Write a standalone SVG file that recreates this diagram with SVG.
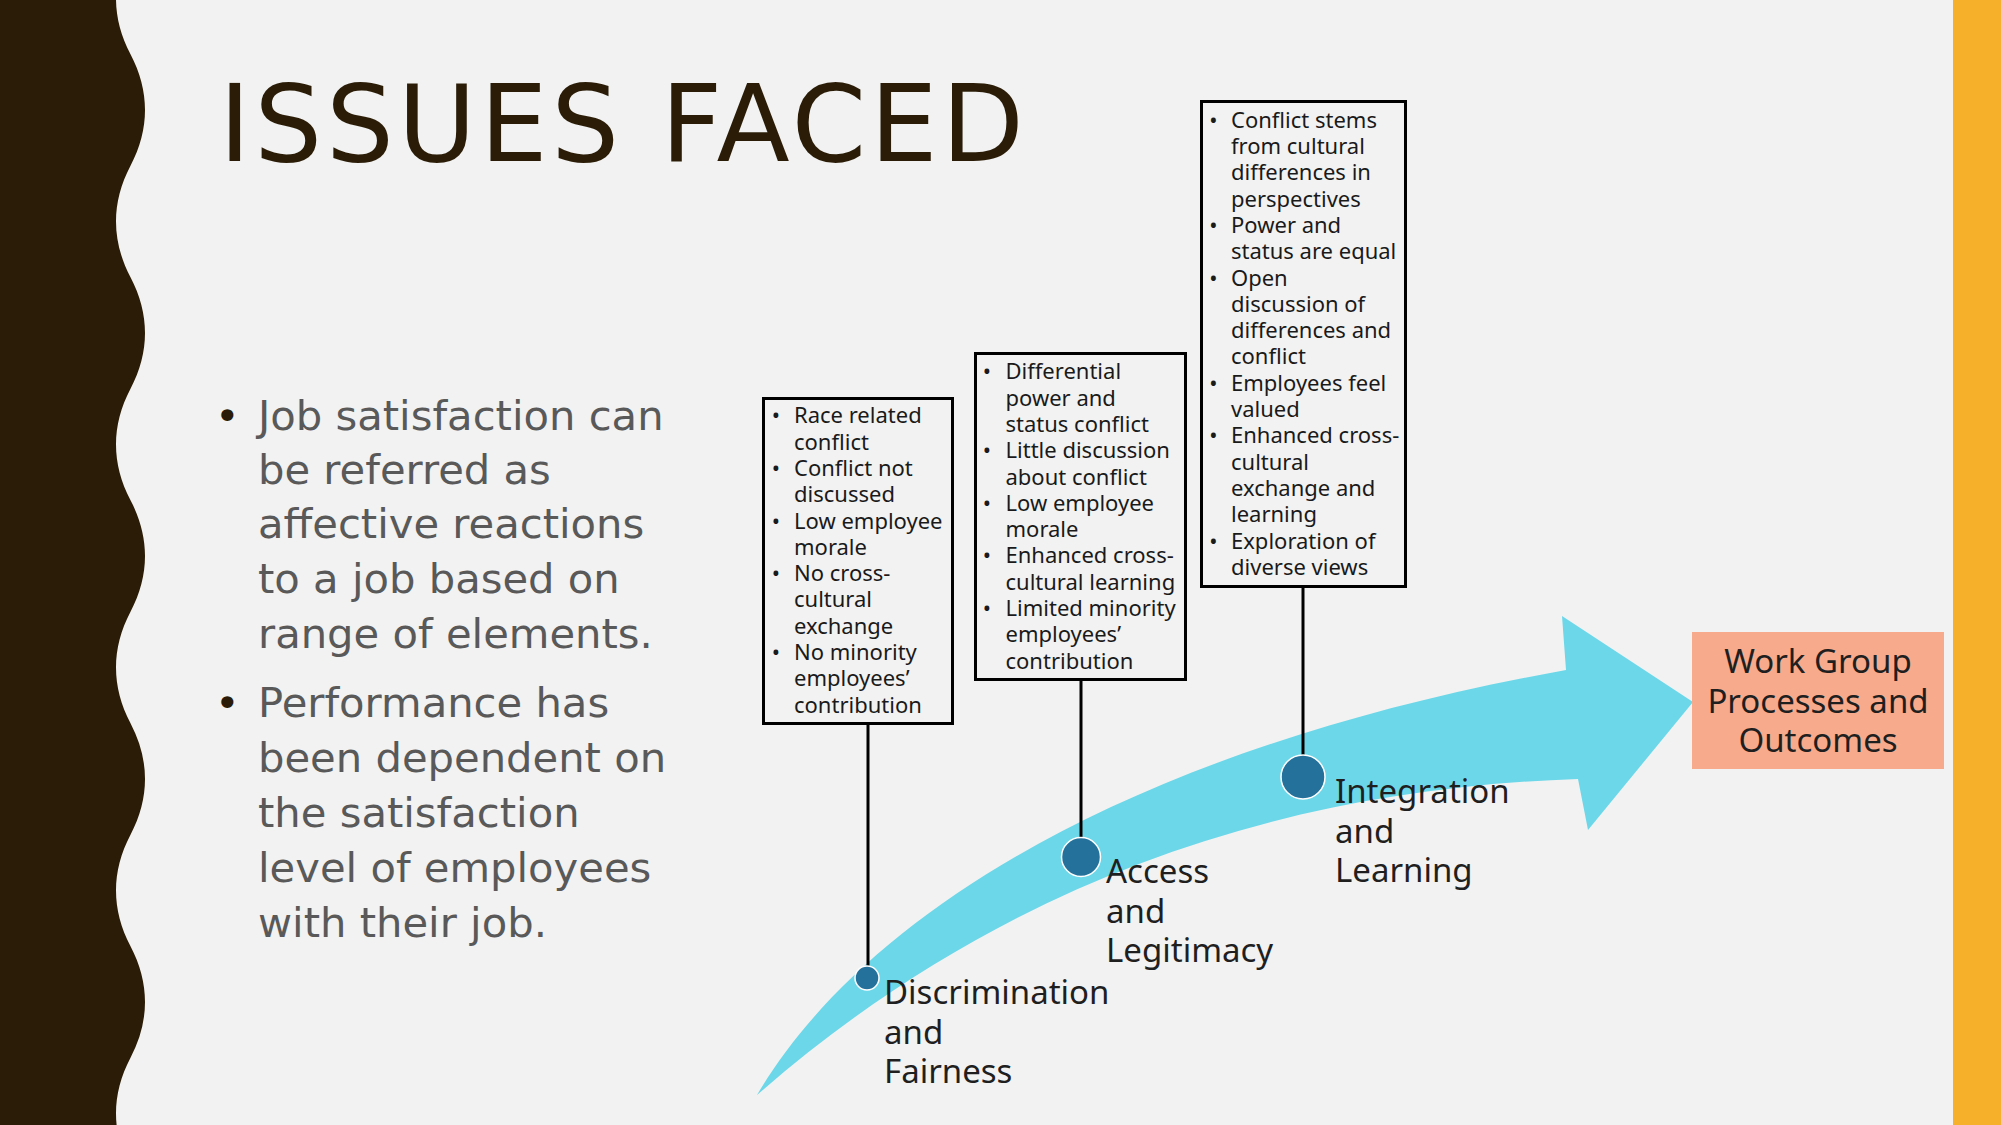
<svg xmlns="http://www.w3.org/2000/svg" width="2001" height="1125" viewBox="0 0 2001 1125">
<style>
.title{font-family:"DejaVu Sans",sans-serif;font-size:107px;fill:#2a1c06;letter-spacing:3.8px}
.body{font-family:"DejaVu Sans",sans-serif;font-size:41.7px;fill:#595959}
.bul{font-family:"DejaVu Sans",sans-serif;font-size:41.7px;fill:#2a1c06}
.box{fill:none;stroke:#000;stroke-width:3}
.bt{font-family:"Noto Sans","Open Sans",sans-serif;font-size:22px;fill:#1a1a1a}
.bb{font-family:"Noto Sans","Open Sans",sans-serif;font-size:22px;fill:#1a1a1a;text-anchor:middle}
.lbl{font-family:"Noto Sans","Open Sans",sans-serif;font-size:33px;fill:#1f1f1f}
.dot{fill:#24729c;stroke:#fff;stroke-width:1.5}
.conn{stroke:#000;stroke-width:3;fill:none}
</style>
<rect id="background" x="0" y="0" width="2001" height="1125" fill="#f2f2f2"/>
<path id="left-band" fill="#2a1c06" d="M0,-58 L130.5,-57.25 C111.17,-20.45 111.17,17.45 130.5,54.25 C149.83,91.05 149.83,128.95 130.5,165.75 C111.17,202.55 111.17,240.45 130.5,277.25 C149.83,314.05 149.83,351.95 130.5,388.75 C111.17,425.55 111.17,463.45 130.5,500.25 C149.83,537.05 149.83,574.95 130.5,611.75 C111.17,648.55 111.17,686.45 130.5,723.25 C149.83,760.05 149.83,797.95 130.5,834.75 C111.17,871.55 111.17,909.45 130.5,946.25 C149.83,983.05 149.83,1020.95 130.5,1057.75 C111.17,1094.55 111.17,1132.45 130.5,1169.25 L0,1170 Z"/>
<rect id="right-bar" x="1953" y="0" width="48" height="1125" fill="#f6b02a"/>
<g id="title"><text class="title" x="219" y="161">ISSUES FACED</text></g>
<g id="body-text">
<text class="bul" x="215" y="430">•</text>
<text class="body" x="258" y="430">Job satisfaction can</text>
<text class="body" x="258" y="484">be referred as</text>
<text class="body" x="258" y="538">affective reactions</text>
<text class="body" x="258" y="593">to a job based on</text>
<text class="body" x="258" y="648">range of elements.</text>
<text class="bul" x="215" y="717">•</text>
<text class="body" x="258" y="717">Performance has</text>
<text class="body" x="258" y="772">been dependent on</text>
<text class="body" x="258" y="827">the satisfaction</text>
<text class="body" x="258" y="882">level of employees</text>
<text class="body" x="258" y="937">with their job.</text>
</g>
<g id="arrow">
<path fill="#6cd7e8" d="M757,1095 C860,920 1120,750 1566,670 L1562,616 L1693,702 L1588,830 L1578,779 C1250,790 980,900 757,1095 Z"/>
</g>
<g id="connectors">
<line class="conn" x1="868" y1="724" x2="868" y2="967"/>
<line class="conn" x1="1081" y1="680" x2="1081" y2="838"/>
<line class="conn" x1="1303" y1="587" x2="1303" y2="755"/>
</g>
<g id="box-discrimination">
<rect class="box" x="763.5" y="398.5" width="189" height="325"/>
<g class="bb"><text x="776" y="423.3">•</text><text x="776" y="476">•</text><text x="776" y="528.5">•</text><text x="776" y="581.1">•</text><text x="776" y="660">•</text></g>
<text class="bt" x="794" y="423.3">Race related</text>
<text class="bt" x="794" y="449.6">conflict</text>
<text class="bt" x="794" y="476">Conflict not</text>
<text class="bt" x="794" y="502.2">discussed</text>
<text class="bt" x="794" y="528.5">Low employee</text>
<text class="bt" x="794" y="554.8">morale</text>
<text class="bt" x="794" y="581.1">No cross-</text>
<text class="bt" x="794" y="607.4">cultural</text>
<text class="bt" x="794" y="633.7">exchange</text>
<text class="bt" x="794" y="660">No minority</text>
<text class="bt" x="794" y="686.3">employees’</text>
<text class="bt" x="794" y="712.6">contribution</text>
</g>
<g id="box-access">
<rect class="box" x="975.5" y="353.5" width="210" height="326"/>
<g class="bb"><text x="987" y="379.3">•</text><text x="987" y="458.2">•</text><text x="987" y="510.8">•</text><text x="987" y="563.4">•</text><text x="987" y="616">•</text></g>
<text class="bt" x="1005.5" y="379.3">Differential</text>
<text class="bt" x="1005.5" y="405.6">power and</text>
<text class="bt" x="1005.5" y="431.9">status conflict</text>
<text class="bt" x="1005.5" y="458.2">Little discussion</text>
<text class="bt" x="1005.5" y="484.5">about conflict</text>
<text class="bt" x="1005.5" y="510.8">Low employee</text>
<text class="bt" x="1005.5" y="537.1">morale</text>
<text class="bt" x="1005.5" y="563.4">Enhanced cross-</text>
<text class="bt" x="1005.5" y="589.7">cultural learning</text>
<text class="bt" x="1005.5" y="616">Limited minority</text>
<text class="bt" x="1005.5" y="642.3">employees’</text>
<text class="bt" x="1005.5" y="668.6">contribution</text>
</g>
<g id="box-integration">
<rect class="box" x="1201.5" y="101.5" width="204" height="485"/>
<g class="bb"><text x="1213.3" y="127.7">•</text><text x="1213.3" y="232.9">•</text><text x="1213.3" y="285.5">•</text><text x="1213.3" y="390.7">•</text><text x="1213.3" y="443.3">•</text><text x="1213.3" y="548.5">•</text></g>
<text class="bt" x="1231" y="127.7">Conflict stems</text>
<text class="bt" x="1231" y="154">from cultural</text>
<text class="bt" x="1231" y="180.3">differences in</text>
<text class="bt" x="1231" y="206.6">perspectives</text>
<text class="bt" x="1231" y="232.9">Power and</text>
<text class="bt" x="1231" y="259.2">status are equal</text>
<text class="bt" x="1231" y="285.5">Open</text>
<text class="bt" x="1231" y="311.8">discussion of</text>
<text class="bt" x="1231" y="338.1">differences and</text>
<text class="bt" x="1231" y="364.4">conflict</text>
<text class="bt" x="1231" y="390.7">Employees feel</text>
<text class="bt" x="1231" y="417">valued</text>
<text class="bt" x="1231" y="443.3">Enhanced cross-</text>
<text class="bt" x="1231" y="469.6">cultural</text>
<text class="bt" x="1231" y="495.9">exchange and</text>
<text class="bt" x="1231" y="522.2">learning</text>
<text class="bt" x="1231" y="548.5">Exploration of</text>
<text class="bt" x="1231" y="574.8">diverse views</text>
</g>
<g id="stage-discrimination">
<circle class="dot" cx="867" cy="978" r="12"/>
<text class="lbl" x="884" y="1004">Discrimination</text>
<text class="lbl" x="884" y="1044">and</text>
<text class="lbl" x="884" y="1083">Fairness</text>
</g>
<g id="stage-access">
<circle class="dot" cx="1081" cy="857" r="19.5"/>
<text class="lbl" x="1106" y="883">Access</text>
<text class="lbl" x="1106" y="922.5">and</text>
<text class="lbl" x="1106" y="962">Legitimacy</text>
</g>
<g id="stage-integration">
<circle class="dot" cx="1303" cy="777" r="22"/>
<text class="lbl" x="1335" y="803">Integration</text>
<text class="lbl" x="1335" y="843">and</text>
<text class="lbl" x="1335" y="882">Learning</text>
</g>
<g id="outcome">
<rect x="1692" y="632" width="252" height="137" fill="#f8aa8c"/>
<text class="lbl" x="1818" y="673" text-anchor="middle">Work Group</text>
<text class="lbl" x="1818" y="713" text-anchor="middle">Processes and</text>
<text class="lbl" x="1818" y="752" text-anchor="middle">Outcomes</text>
</g>
</svg>
